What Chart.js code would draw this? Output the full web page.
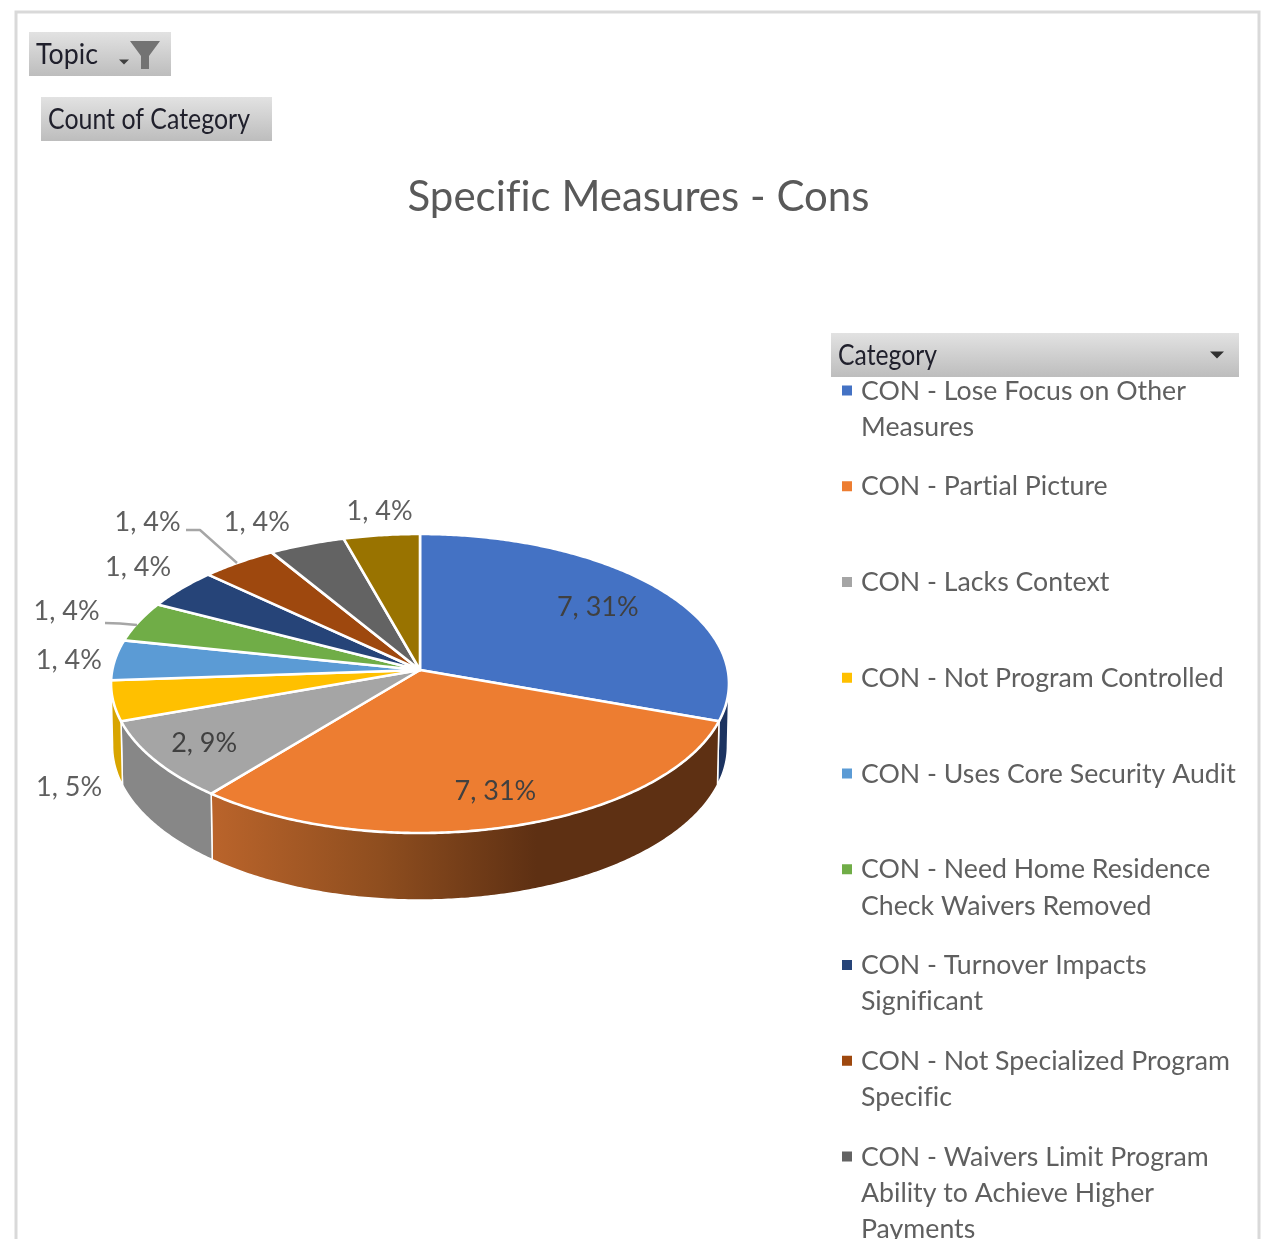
<!DOCTYPE html>
<html>
<head>
<meta charset="utf-8">
<title>Specific Measures - Cons</title>
<script src="https://cdn.jsdelivr.net/npm/chart.js@4/dist/chart.umd.js"></script>
<style>
  html, body { margin: 0; padding: 0; background: #fff; overflow: hidden; }
  canvas { display: block; }
</style>
</head>
<body>
<canvas id="pie" width="1262" height="1239"></canvas>
<script>
// Pivot chart data
const chartTitle = 'Specific Measures - Cons';
const categories = [
  'CON - Lose Focus on Other Measures',
  'CON - Partial Picture',
  'CON - Lacks Context',
  'CON - Not Program Controlled',
  'CON - Uses Core Security Audit',
  'CON - Need Home Residence Check Waivers Removed',
  'CON - Turnover Impacts Significant',
  'CON - Not Specialized Program Specific',
  'CON - Waivers Limit Program Ability to Achieve Higher Payments'
];
const counts = [7, 7, 2, 1, 1, 1, 1, 1, 1, 1];
const percents = [31, 31, 9, 5, 4, 4, 4, 4, 4, 4];
const sliceColors = ['#4472C4', '#ED7D31', '#A5A5A5', '#FFC000', '#5B9BD5', '#70AD47', '#264478', '#9E480E', '#636363', '#997300'];
const wallColors = ['#1c3360', null, '#878787', '#d8a500', null, null, null, null, null, null];

// Label placement per slice: [radius fraction, dx, dy] from the slice's mid angle
const labelPlacement = [
  [0.70, 8, -5], [0.80, 4, -1], [0.80, -6, 2], [1, -44, 87], [1, -46, 0],
  [1, -72, -10], [1, -43, -21], [1, -91, -40], [1, -50, -22], [1, -2, -24]
];

// Tilted-disc projection of the pie
const disc = { cx: 420, cy: 670, a: 307.7, b: 148.3, k: 0.0903 };
const FONT = 'Lato, "Open Sans", sans-serif';

function project(theta, r) {
  const u = r * Math.sin(theta), v = -r * Math.cos(theta), w = 1 - disc.k * v;
  return { x: disc.cx + disc.a * u / w, y: disc.cy + disc.b * v / w };
}
function projectFloor(theta) {
  const u = Math.sin(theta), v = -Math.cos(theta), w = 1 - disc.k * v;
  return { x: disc.cx + 0.995 * disc.a * u / w, y: disc.cy + disc.b * v / w + 62 + 5 * v };
}
function samples(from, to) {
  const n = Math.max(2, Math.ceil(Math.abs(to - from) / 0.01)), out = [];
  for (let i = 0; i <= n; i++) out.push(from + (to - from) * i / n);
  return out;
}

function drawWall(ctx, i, from, to) {
  const lo = Math.max(from, 1.66), hi = Math.min(to, 4.63);
  if (hi <= lo) return;
  const top = samples(lo, hi);
  ctx.beginPath();
  top.forEach((t, n) => { const p = project(t, 1); n ? ctx.lineTo(p.x, p.y) : ctx.moveTo(p.x, p.y); });
  top.slice().reverse().forEach(t => { const p = projectFloor(t); ctx.lineTo(p.x, p.y); });
  ctx.closePath();
  if (wallColors[i]) {
    ctx.fillStyle = wallColors[i];
  } else {
    // The large front wall darkens from left to right
    const left = project(hi, 1).x, right = project(lo, 1).x;
    const g = ctx.createLinearGradient(left, 0, right, 0);
    g.addColorStop(0, '#ba642b');
    g.addColorStop(0.33, '#8f4e1f');
    g.addColorStop(0.64, '#5e3013');
    g.addColorStop(1, '#5e3013');
    ctx.fillStyle = g;
  }
  ctx.fill();
  ctx.lineWidth = 1.5;
  ctx.strokeStyle = '#ffffff';
  ctx.stroke();
}

function drawTop(ctx, i, from, to) {
  ctx.beginPath();
  ctx.moveTo(disc.cx, disc.cy);
  samples(from, to).forEach(t => { const p = project(t, 1); ctx.lineTo(p.x, p.y); });
  ctx.closePath();
  ctx.fillStyle = sliceColors[i];
  ctx.fill();
  ctx.lineWidth = 2.6;
  ctx.lineJoin = 'round';
  ctx.strokeStyle = '#ffffff';
  ctx.stroke();
}

function drawLeader(ctx, pts) {
  ctx.beginPath();
  pts.forEach((p, n) => n ? ctx.lineTo(p[0], p[1]) : ctx.moveTo(p[0], p[1]));
  ctx.lineWidth = 2.4;
  ctx.strokeStyle = '#a6a6a6';
  ctx.stroke();
}

function fieldButton(ctx, x, y, w, h, text, textX, textWidth) {
  const g = ctx.createLinearGradient(0, y, 0, y + h);
  g.addColorStop(0, '#e2e2e2');
  g.addColorStop(1, '#bdbdbd');
  ctx.fillStyle = g;
  ctx.fillRect(x, y, w, h);
  ctx.font = '28px ' + FONT;
  ctx.fillStyle = '#20202c';
  ctx.textAlign = 'left';
  ctx.textBaseline = 'middle';
  ctx.fillText(text, textX, y + h / 2 + 1, textWidth);
}
function triangle(ctx, cx, cy, w, h, color) {
  ctx.beginPath();
  ctx.moveTo(cx - w / 2, cy - h / 2);
  ctx.lineTo(cx + w / 2, cy - h / 2);
  ctx.lineTo(cx, cy + h / 2);
  ctx.closePath();
  ctx.fillStyle = color;
  ctx.fill();
}
function funnel(ctx, color) {
  ctx.beginPath();
  ctx.moveTo(130, 41);
  ctx.lineTo(160, 41);
  ctx.lineTo(149, 56);
  ctx.lineTo(149, 69);
  ctx.lineTo(141, 69);
  ctx.lineTo(141, 56);
  ctx.closePath();
  ctx.fillStyle = color;
  ctx.fill();
}

function wrapText(ctx, text, maxWidth) {
  const lines = [];
  let line = '';
  text.split(' ').forEach(word => {
    const next = line ? line + ' ' + word : word;
    if (line && ctx.measureText(next).width > maxWidth) { lines.push(line); line = word; }
    else line = next;
  });
  lines.push(line);
  return lines;
}

function drawLegend(ctx) {
  ctx.font = '26.7px ' + FONT;
  ctx.textAlign = 'left';
  ctx.textBaseline = 'middle';
  categories.forEach((name, i) => {
    const y = 390.5 + 95.75 * i;
    ctx.fillStyle = sliceColors[i];
    ctx.fillRect(842, y - 5, 10, 10);
    ctx.fillStyle = '#5f5f5f';
    wrapText(ctx, name, 390).forEach((line, n) => ctx.fillText(line, 861, y + 0.5 + n * 36.3));
  });
}

const tiltedPie = {
  id: 'tiltedPie',
  beforeDraw(chart) {
    const ctx = chart.ctx;
    // A tiny tracking value keeps "fi" as two separate glyphs in all canvas text
    ctx.letterSpacing = '0.01px';
    ctx.save();
    // Chart frame, open at the bottom edge
    ctx.strokeStyle = '#d9d9d9';
    ctx.lineWidth = 3;
    ctx.beginPath();
    ctx.moveTo(16, 1239);
    ctx.lineTo(16, 12);
    ctx.lineTo(1259, 12);
    ctx.lineTo(1259, 1239);
    ctx.stroke();
    // Pivot field buttons
    fieldButton(ctx, 29, 32, 142, 44, 'Topic', 36, 62);
    triangle(ctx, 124, 62, 10, 5, '#404040');
    funnel(ctx, '#737373');
    fieldButton(ctx, 41, 97, 231, 44, 'Count of Category', 48, 202);
    fieldButton(ctx, 831, 333, 408, 44, 'Category', 838, 99);
    triangle(ctx, 1217, 355, 14, 7, '#303030');
    drawLegend(ctx);
    ctx.restore();
  },
  beforeDatasetsDraw(chart) {
    const ctx = chart.ctx;
    const arcs = chart.getDatasetMeta(0).data;
    const angles = arcs.map(arc => [arc.startAngle + Math.PI / 2, arc.endAngle + Math.PI / 2]);
    ctx.save();
    angles.forEach((a, i) => drawWall(ctx, i, a[0], a[1]));
    angles.forEach((a, i) => drawTop(ctx, i, a[0], a[1]));
    drawLeader(ctx, [[105, 623], [120, 623.5], [137, 625]]);
    drawLeader(ctx, [[186, 530], [200, 530], [237, 563]]);
    ctx.font = '27px ' + FONT;
    ctx.textAlign = 'center';
    ctx.textBaseline = 'middle';
    angles.forEach((a, i) => {
      const [r, dx, dy] = labelPlacement[i];
      const p = project((a[0] + a[1]) / 2, r);
      ctx.fillStyle = r < 1 ? '#404040' : '#5f5f5f';
      ctx.fillText(counts[i] + ', ' + percents[i] + '%', p.x + dx, p.y + dy);
    });
    ctx.restore();
    return false;
  }
};

new Chart(document.getElementById('pie'), {
  type: 'pie',
  data: {
    labels: categories,
    datasets: [{ data: counts, backgroundColor: sliceColors, borderColor: '#ffffff' }]
  },
  options: {
    responsive: false,
    animation: false,
    layout: { padding: { left: 15, top: 172 } },
    plugins: {
      legend: { display: false },
      tooltip: { enabled: false },
      title: {
        display: true,
        text: chartTitle,
        color: '#595959',
        font: { family: FONT, size: 42, weight: 'normal' },
        padding: 0
      }
    }
  },
  plugins: [tiltedPie]
});
</script>
</body>
</html>
